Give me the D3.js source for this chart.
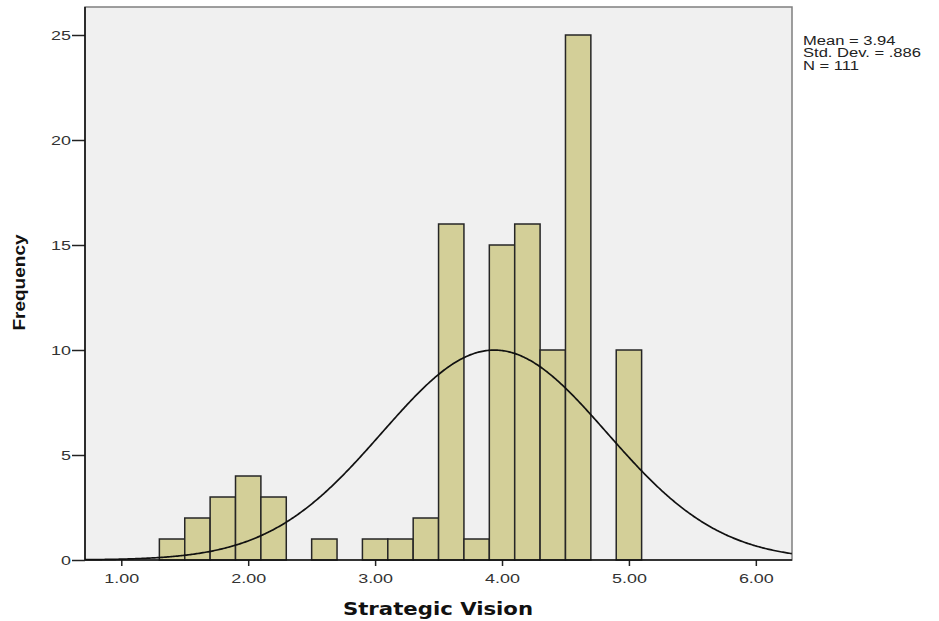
<!DOCTYPE html>
<html>
<head>
<meta charset="utf-8">
<script src="https://cdn.jsdelivr.net/npm/d3@7"></script>
<style>
  html, body { margin: 0; padding: 0; background: #fff; }
  svg { display: block; }
</style>
</head>
<body>
<svg id="chart" width="939" height="621"></svg>
<script>
// ---- data ----
const binStarts = [1.3, 1.5, 1.7, 1.9, 2.1, 2.3, 2.5, 2.7, 2.9, 3.1, 3.3, 3.5, 3.7, 3.9, 4.1, 4.3, 4.5, 4.7, 4.9];
const frequencies = [1, 2, 3, 4, 3, 0, 1, 0, 1, 1, 2, 16, 1, 15, 16, 10, 25, 0, 10];
const binWidth = 0.2;
const xTicks = [1, 2, 3, 4, 5, 6];
const yTicks = [0, 5, 10, 15, 20, 25];
const meanVal = 3.94;
const sdVal = 0.886;
const nVal = 111;
const statsLines = ["Mean = 3.94", "Std. Dev. = .886", "N = 111"];

// ---- layout ----
const svg = d3.select("#chart");
const pL = 85, pR = 792, pT = 7, pB = 560;
const SX = 1.38; // horizontal stretch of the reference's lettering

const x = d3.scaleLinear().domain([0.714, 6.285]).range([pL, pR]);
const y = d3.scaleLinear().domain([0, 25]).range([pB, pB - 25 * 21]);

// plot background
svg.append("rect")
  .attr("x", pL).attr("y", pT)
  .attr("width", pR - pL).attr("height", pB - pT)
  .attr("fill", "#f0f0f0")
  .attr("stroke", "#7f7f7f").attr("stroke-width", 1.5);

// bars
svg.append("g").selectAll("rect")
  .data(binStarts.map((s, i) => ({ s, f: frequencies[i] })).filter(d => d.f > 0))
  .join("rect")
  .attr("x", d => x(d.s))
  .attr("y", d => y(d.f))
  .attr("width", d => x(d.s + binWidth) - x(d.s))
  .attr("height", d => y(0) - y(d.f))
  .attr("fill", "#d3cf98")
  .attr("stroke", "#262626")
  .attr("stroke-width", 1.5);

// normal curve
const scaleFactor = nVal * binWidth;
const pdf = v => scaleFactor / (sdVal * Math.sqrt(2 * Math.PI)) * Math.exp(-0.5 * ((v - meanVal) / sdVal) ** 2);
const curvePts = d3.range(x.domain()[0], x.domain()[1] + 0.001, 0.01).map(v => [v, pdf(v)]);
svg.append("path")
  .datum(curvePts)
  .attr("fill", "none")
  .attr("stroke", "#111")
  .attr("stroke-width", 1.7)
  .attr("d", d3.line().x(d => x(d[0])).y(d => y(d[1])));

// axes
const xAxis = svg.append("g")
  .attr("transform", `translate(0,${pB})`)
  .call(d3.axisBottom(x).tickValues(xTicks).tickFormat(d3.format(".2f")).tickSize(6).tickSizeOuter(0));
const yAxis = svg.append("g")
  .attr("transform", `translate(${pL},0)`)
  .call(d3.axisLeft(y).tickValues(yTicks).tickSize(13).tickSizeOuter(0));

[xAxis, yAxis].forEach(g => {
  g.select(".domain").remove();
  g.selectAll(".tick line").attr("stroke", "#222").attr("stroke-width", 1.5);
  g.selectAll(".tick text")
    .attr("fill", "#333")
    .style("font-family", "'Liberation Sans', Arial, sans-serif")
    .style("font-size", "13px");
});
xAxis.selectAll(".tick text").attr("y", 23).attr("dy", null)
  .attr("transform", `scale(${SX},1)`);
yAxis.selectAll(".tick text").attr("x", -14 / SX).attr("dy", "0.36em")
  .attr("transform", `scale(${SX},1)`);

// axis lines (left & bottom in black)
svg.append("line").attr("x1", pL).attr("x2", pL).attr("y1", pT).attr("y2", pB)
  .attr("stroke", "#111").attr("stroke-width", 1.6);
svg.append("line").attr("x1", pL).attr("x2", pR).attr("y1", pB).attr("y2", pB)
  .attr("stroke", "#111").attr("stroke-width", 1.6);

// axis titles
svg.append("text")
  .attr("transform", `translate(438,615) scale(1.18,1)`)
  .attr("text-anchor", "middle")
  .style("font-family", "'DejaVu Sans', sans-serif")
  .style("font-weight", "bold")
  .style("font-size", "18px")
  .attr("fill", "#111")
  .text("Strategic Vision");

svg.append("text")
  .attr("transform", "translate(24.5,282.5) rotate(-90) scale(1.12,1)")
  .attr("text-anchor", "middle")
  .style("font-family", "'Liberation Sans Narrow', 'Liberation Sans', sans-serif")
  .style("font-weight", "bold")
  .style("font-size", "17px")
  .attr("fill", "#111")
  .text("Frequency");

// stats
svg.append("g")
  .attr("transform", `translate(803,0) scale(${SX},1)`)
  .selectAll("text")
  .data(statsLines)
  .join("text")
  .attr("x", 0)
  .attr("y", (d, i) => 45 + i * 12.3)
  .style("font-family", "'Liberation Sans', Arial, sans-serif")
  .style("font-size", "12px")
  .attr("fill", "#222")
  .text(d => d);
</script>
</body>
</html>
